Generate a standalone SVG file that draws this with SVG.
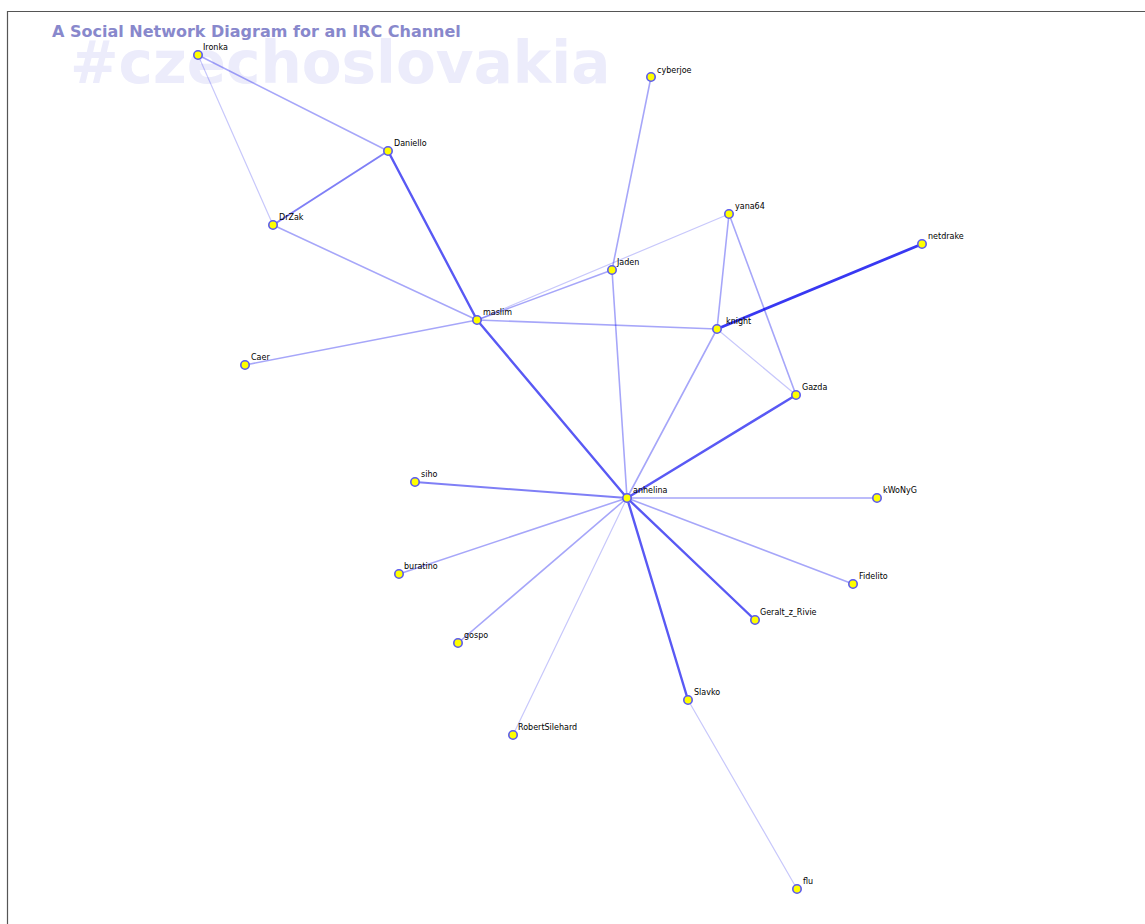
<svg xmlns="http://www.w3.org/2000/svg" width="1145" height="924" viewBox="0 0 1145 924">
  <style>
    .title { font-family: "DejaVu Sans", "Liberation Sans", sans-serif; font-weight: bold; font-size: 16px; fill: #8888cc; }
    .channel { font-family: "DejaVu Sans", "Liberation Sans", sans-serif; font-weight: bold; font-size: 58px; fill: #ececfb; }
    .lbl { font-family: "DejaVu Sans", "Liberation Sans", sans-serif; font-size: 8px; fill: #000; }
    .node circle { fill: #ffff00; stroke: #5a5aee; stroke-width: 1.6; }
    .e { fill: none; stroke: #0000ee; stroke-linecap: round; }
    .w1 { stroke-opacity: 0.22; stroke-width: 1.2; }
    .w2 { stroke-opacity: 0.35; stroke-width: 1.6; }
    .w3 { stroke-opacity: 0.5; stroke-width: 2; }
    .w4 { stroke-opacity: 0.65; stroke-width: 2.4; }
    .w5 { stroke-opacity: 0.78; stroke-width: 2.8; }
  </style>
  <rect x="0" y="0" width="1145" height="924" fill="#ffffff"/>
  <!-- frame -->
  <path d="M7.5 924 V11.5 H1145" fill="none" stroke="#555" stroke-width="1.2"/>

  <text class="channel" x="70" y="83">#czechoslovakia</text>
  <text class="title" x="52" y="37">A Social Network Diagram for an IRC Channel</text>

  <g id="connectors">
    <line class="e w2" x1="198" y1="55" x2="388" y2="151"/>
    <line class="e w1" x1="198" y1="55" x2="273" y2="225"/>
    <line class="e w3" x1="388" y1="151" x2="273" y2="225"/>
    <line class="e w4" x1="388" y1="151" x2="477" y2="320"/>
    <line class="e w2" x1="273" y1="225" x2="477" y2="320"/>
    <line class="e w2" x1="245" y1="365" x2="477" y2="320"/>
    <line class="e w2" x1="477" y1="320" x2="612" y2="270"/>
    <line class="e w1" x1="477" y1="320" x2="729" y2="214"/>
    <line class="e w2" x1="477" y1="320" x2="717" y2="329"/>
    <line class="e w4" x1="477" y1="320" x2="627" y2="498"/>
    <line class="e w2" x1="651" y1="77" x2="612" y2="270"/>
    <line class="e w2" x1="612" y1="270" x2="627" y2="498"/>
    <line class="e w2" x1="729" y1="214" x2="717" y2="329"/>
    <line class="e w2" x1="729" y1="214" x2="796" y2="395"/>
    <line class="e w5" x1="717" y1="329" x2="922" y2="244"/>
    <line class="e w1" x1="717" y1="329" x2="796" y2="395"/>
    <line class="e w2" x1="717" y1="329" x2="627" y2="498"/>
    <line class="e w4" x1="796" y1="395" x2="627" y2="498"/>
    <line class="e w2" x1="627" y1="498" x2="877" y2="498"/>
    <line class="e w3" x1="627" y1="498" x2="415" y2="482"/>
    <line class="e w2" x1="627" y1="498" x2="399" y2="574"/>
    <line class="e w2" x1="627" y1="498" x2="853" y2="584"/>
    <line class="e w4" x1="627" y1="498" x2="755" y2="620"/>
    <line class="e w2" x1="627" y1="498" x2="458" y2="643"/>
    <line class="e w4" x1="627" y1="498" x2="688" y2="700"/>
    <line class="e w1" x1="627" y1="498" x2="513" y2="735"/>
    <line class="e w1" x1="688" y1="700" x2="797" y2="889"/>
  </g>

  <g id="Ironka" class="node"><circle cx="198" cy="55" r="4.2"/><text class="lbl" x="203" y="50">Ironka</text></g>
  <g id="Daniello" class="node"><circle cx="388" cy="151" r="4.2"/><text class="lbl" x="394" y="146">Daniello</text></g>
  <g id="DrZak" class="node"><circle cx="273" cy="225" r="4.2"/><text class="lbl" x="279" y="220">DrZak</text></g>
  <g id="Caer" class="node"><circle cx="245" cy="365" r="4.2"/><text class="lbl" x="251" y="360">Caer</text></g>
  <g id="maslim" class="node"><circle cx="477" cy="320" r="4.2"/><text class="lbl" x="483" y="315">maslim</text></g>
  <g id="cyberjoe" class="node"><circle cx="651" cy="77" r="4.2"/><text class="lbl" x="657" y="73">cyberjoe</text></g>
  <g id="yana64" class="node"><circle cx="729" cy="214" r="4.2"/><text class="lbl" x="735" y="209">yana64</text></g>
  <g id="netdrake" class="node"><circle cx="922" cy="244" r="4.2"/><text class="lbl" x="928" y="239">netdrake</text></g>
  <g id="jaden" class="node"><circle cx="612" cy="270" r="4.2"/><text class="lbl" x="617" y="265">Jaden</text></g>
  <g id="knight" class="node"><circle cx="717" cy="329" r="4.2"/><text class="lbl" x="726" y="324">knight</text></g>
  <g id="Gazda" class="node"><circle cx="796" cy="395" r="4.2"/><text class="lbl" x="802" y="390">Gazda</text></g>
  <g id="anhelina" class="node"><circle cx="627" cy="498" r="4.2"/><text class="lbl" x="633" y="493">anhelina</text></g>
  <g id="kWoNyG" class="node"><circle cx="877" cy="498" r="4.2"/><text class="lbl" x="883" y="493">kWoNyG</text></g>
  <g id="siho" class="node"><circle cx="415" cy="482" r="4.2"/><text class="lbl" x="421" y="477">siho</text></g>
  <g id="buratino" class="node"><circle cx="399" cy="574" r="4.2"/><text class="lbl" x="404" y="569">buratino</text></g>
  <g id="Fidelito" class="node"><circle cx="853" cy="584" r="4.2"/><text class="lbl" x="859" y="579">Fidelito</text></g>
  <g id="Geralt_z_Rivie" class="node"><circle cx="755" cy="620" r="4.2"/><text class="lbl" x="760" y="615">Geralt_z_Rivie</text></g>
  <g id="gospo" class="node"><circle cx="458" cy="643" r="4.2"/><text class="lbl" x="464" y="638">gospo</text></g>
  <g id="Slavko" class="node"><circle cx="688" cy="700" r="4.2"/><text class="lbl" x="694" y="695">Slavko</text></g>
  <g id="RobertSilehard" class="node"><circle cx="513" cy="735" r="4.2"/><text class="lbl" x="518" y="730">RobertSilehard</text></g>
  <g id="flu" class="node"><circle cx="797" cy="889" r="4.2"/><text class="lbl" x="803" y="884">flu</text></g>
</svg>
